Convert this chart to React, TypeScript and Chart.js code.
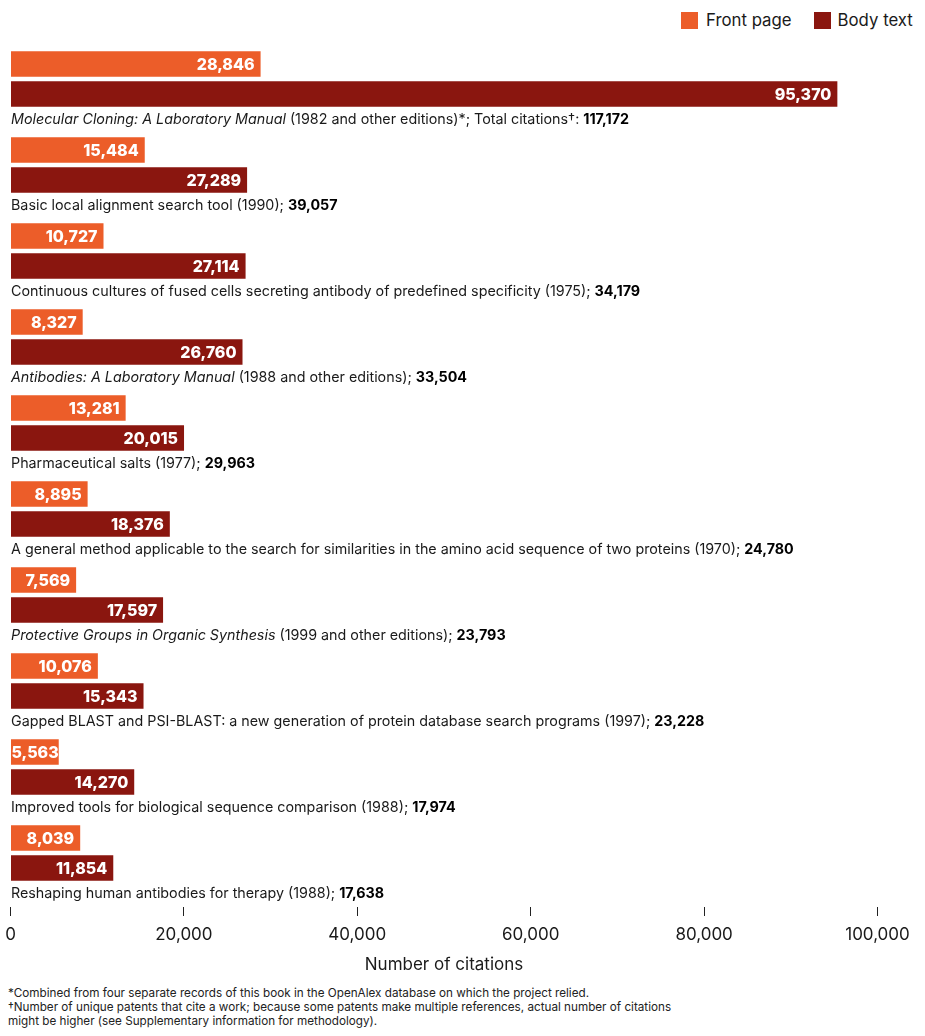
import React, { useEffect, useRef } from "react";
import { Chart, registerables } from "chart.js";

Chart.register(...registerables);

const FONT = "Inter, 'Noto Sans', sans-serif";

const works = [
  "Molecular Cloning: A Laboratory Manual",
  "Basic local alignment search tool",
  "Continuous cultures of fused cells secreting antibody of predefined specificity",
  "Antibodies: A Laboratory Manual",
  "Pharmaceutical salts",
  "A general method applicable to the search for similarities in the amino acid sequence of two proteins",
  "Protective Groups in Organic Synthesis",
  "Gapped BLAST and PSI-BLAST: a new generation of protein database search programs",
  "Improved tools for biological sequence comparison",
  "Reshaping human antibodies for therapy",
];
const italicTitle = [true, false, false, true, false, false, true, false, false, false];
const workNotes = [
  " (1982 and other editions)*; Total citations\u2020: ",
  " (1990); ",
  " (1975); ",
  " (1988 and other editions); ",
  " (1977); ",
  " (1970); ",
  " (1999 and other editions); ",
  " (1997); ",
  " (1988); ",
  " (1988); ",
];
const totalCitations = [117172, 39057, 34179, 33504, 29963, 24780, 23793, 23228, 17974, 17638];
const frontPage = [28846, 15484, 10727, 8327, 13281, 8895, 7569, 10076, 5563, 8039];
const bodyText = [95370, 27289, 27114, 26760, 20015, 18376, 17597, 15343, 14270, 11854];
const xTicks = [0, 20000, 40000, 60000, 80000, 100000];
const seriesNames = ["Front page", "Body text"];
const seriesColors = ["#EC5D29", "#8A160F"];

const fmt = (v: number) => v.toLocaleString("en-US");

const labelPlugin = {
  id: "barLabels",
  afterDatasetsDraw(chart: any) {
    const ctx = chart.ctx as CanvasRenderingContext2D;
    const left = chart.chartArea.left;
    ctx.save();
    // value labels inside bars
    chart.data.datasets.forEach((ds: any, di: number) => {
      const meta = chart.getDatasetMeta(di);
      meta.data.forEach((bar: any, i: number) => {
        const txt = fmt(ds.data[i]);
        ctx.font = `800 16px ${FONT}`;
        ctx.fillStyle = "#ffffff";
        ctx.textAlign = "right";
        ctx.textBaseline = "middle";
        const w = ctx.measureText(txt).width;
        const x = Math.max(bar.x - 6, left + 1 + w);
        ctx.fillText(txt, x, bar.y + 1);
      });
    });
    // work labels below each pair
    const bodyMeta = chart.getDatasetMeta(1);
    bodyMeta.data.forEach((bar: any, i: number) => {
      let x = left + 0.5;
      const y = bar.y + bar.height / 2 + 13;
      const segs = [
        { t: works[i], f: `${italicTitle[i] ? "italic " : ""}400 14.3px ${FONT}`, c: "#1a1a1a" },
        { t: workNotes[i], f: `400 14.3px ${FONT}`, c: "#1a1a1a" },
        { t: fmt(totalCitations[i]), f: `700 14.3px ${FONT}`, c: "#000000" },
      ];
      ctx.textAlign = "left";
      ctx.textBaseline = "middle";
      segs.forEach((s) => {
        ctx.font = s.f;
        ctx.fillStyle = s.c;
        ctx.fillText(s.t, x, y);
        x += ctx.measureText(s.t).width;
      });
    });
    ctx.restore();
  },
};

function ChartView() {
  const ref = useRef<HTMLCanvasElement | null>(null);
  useEffect(() => {
    if (!ref.current) return;
    const chart = new Chart(ref.current, {
      type: "bar",
      data: {
        labels: works,
        datasets: [
          {
            label: seriesNames[0],
            data: frontPage,
            backgroundColor: seriesColors[0],
            categoryPercentage: 60 / 86,
            barPercentage: 0.85,
          },
          {
            label: seriesNames[1],
            data: bodyText,
            backgroundColor: seriesColors[1],
            categoryPercentage: 60 / 86,
            barPercentage: 0.85,
          },
        ],
      },
      options: {
        indexAxis: "y",
        animation: false,
        responsive: false,
        maintainAspectRatio: false,
        devicePixelRatio: 1,
        layout: { padding: { left: 10.5, right: 47.5, top: 36, bottom: 0 } },
        plugins: {
          legend: { display: false },
          tooltip: { enabled: false },
        },
        scales: {
          y: { display: false, grid: { display: false } },
          x: {
            type: "linear",
            min: 0,
            max: 100000,
            position: "bottom",
            border: { display: false },
            grid: {
              drawOnChartArea: false,
              drawTicks: true,
              tickLength: 20,
              tickWidth: 1,
              tickColor: "#222222",
              tickBorderDash: [0, 11, 9, 200],
            },
            ticks: {
              padding: 9,
              color: "#1a1a1a",
              font: { family: FONT, size: 17, weight: 400 },
              maxRotation: 0,
              autoSkip: false,
              callback: (v: any) => fmt(Number(v)),
            },
            afterBuildTicks: (s: any) => {
              s.ticks = xTicks.map((v) => ({ value: v }));
            },
            afterFit: (s: any) => {
              s.paddingLeft = 0;
              s.paddingRight = 0;
              s.height = 89;
            },
            title: {
              display: true,
              text: "Number of citations",
              color: "#1a1a1a",
              font: { family: FONT, size: 17, weight: 400 },
              padding: { top: 0, bottom: 10 },
            },
          },
        },
      },
      plugins: [labelPlugin],
    });
    return () => chart.destroy();
  }, []);
  return <canvas ref={ref} width={925} height={985} style={{ display: "block", width: 925, height: 985 }} />;
}

export default function App() {
  return (
    <div style={{ position: "absolute", left: 0, top: 0, width: 925, height: 1036, background: "#fff", overflow: "hidden", fontFamily: FONT }}>
      <div style={{ position: "absolute", left: 681, top: 12, display: "flex", alignItems: "center", fontSize: 16.8, color: "#1a1a1a", lineHeight: "17px" }}>
        <span style={{ width: 17, height: 17, background: seriesColors[0], display: "inline-block" }} />
        <span style={{ marginLeft: 8 }}>{seriesNames[0]}</span>
        <span style={{ width: 17, height: 17, background: seriesColors[1], display: "inline-block", marginLeft: 22 }} />
        <span style={{ marginLeft: 7 }}>{seriesNames[1]}</span>
      </div>
      <div style={{ position: "absolute", left: 0, top: 0 }}>
        <ChartView />
      </div>
      <div style={{ position: "absolute", left: 8, top: 986, fontSize: 11.7, lineHeight: "14px", color: "#222" }}>
        <div>*Combined from four separate records of this book in the OpenAlex database on which the project relied.</div>
        <div>{"\u2020"}Number of unique patents that cite a work; because some patents make multiple references, actual number of citations</div>
        <div>might be higher (see Supplementary information for methodology).</div>
      </div>
    </div>
  );
}
